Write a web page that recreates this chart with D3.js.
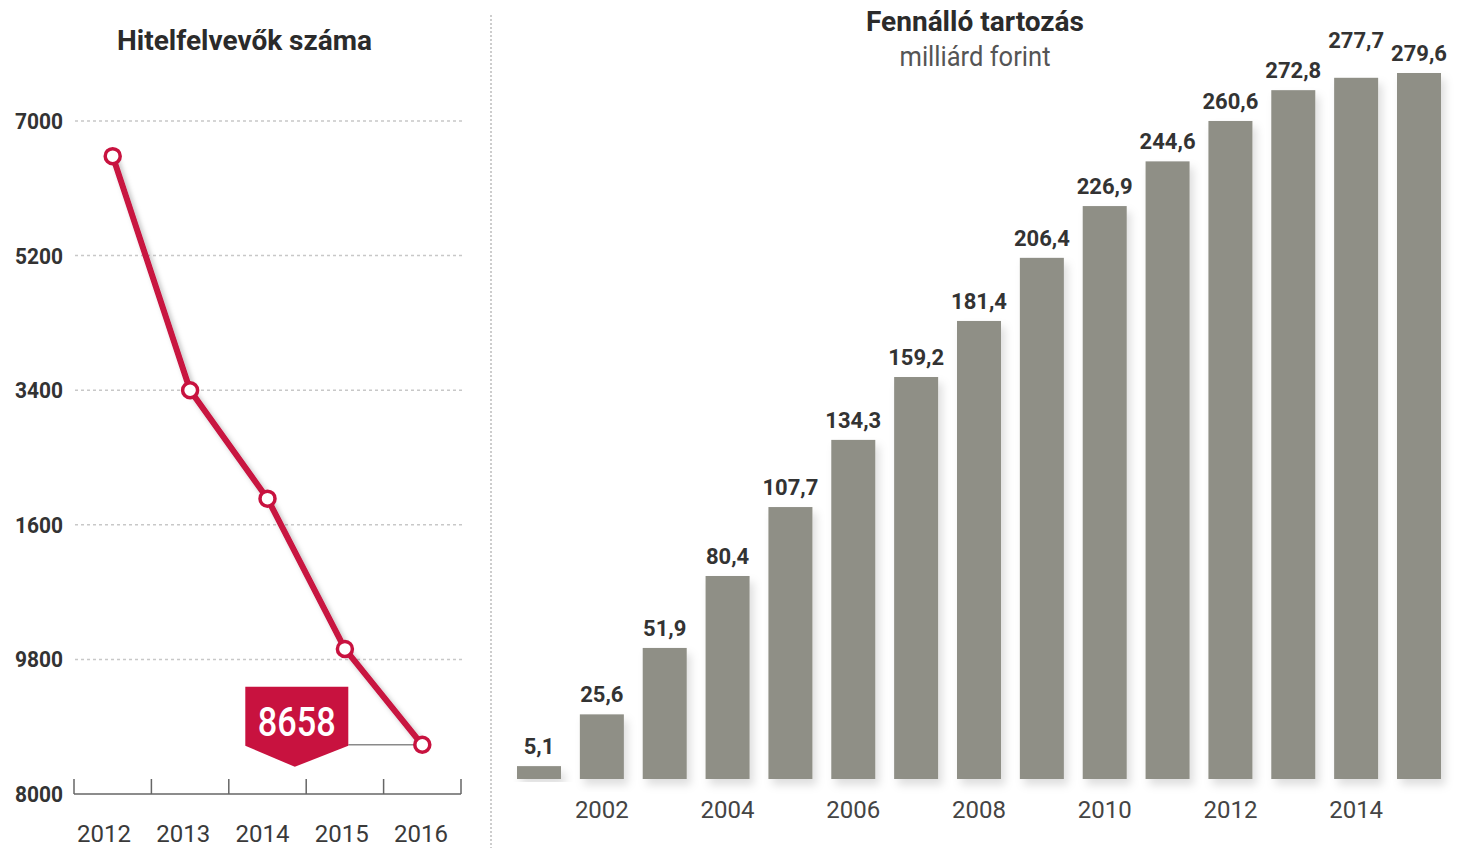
<!DOCTYPE html>
<html><head><meta charset="utf-8">
<script src="https://cdn.jsdelivr.net/npm/d3@7"></script>
<style>
html,body{margin:0;padding:0;background:#fff;}
svg{display:block;}
text{font-family:Roboto, "Noto Sans", sans-serif;}
</style></head>
<body>
<svg id="chart" width="1468" height="848"></svg>
<script>
// ---------- data ----------
const lineTitle = "Hitelfelvevők száma";
const lineYears = ["2012","2013","2014","2015","2016"];
const lineValues = [16530, 13400, 11950, 9940, 8658];
const lineTickValues = [8000, 9800, 11600, 13400, 15200, 17000];
const lineTickLabels = ["8000", "9800", "1600", "3400", "5200", "7000"];
const calloutLabel = "8658";

const barTitle = "Fennálló tartozás";
const barSubtitle = "milliárd forint";
const barYears = ["2001","2002","2003","2004","2005","2006","2007","2008","2009","2010","2011","2012","2013","2014","2015"];
const barValues = [5.1, 25.6, 51.9, 80.4, 107.7, 134.3, 159.2, 181.4, 206.4, 226.9, 244.6, 260.6, 272.8, 277.7, 279.6];
const barValueLabels = ["5,1","25,6","51,9","80,4","107,7","134,3","159,2","181,4","206,4","226,9","244,6","260,6","272,8","277,7","279,6"];
const barAxisLabels = ["2002","2004","2006","2008","2010","2012","2014"];

// ---------- setup ----------
const svg = d3.select("#chart");
const defs = svg.append("defs");
const f1 = defs.append("filter").attr("id","lineShadow").attr("x","-20%").attr("y","-20%").attr("width","140%").attr("height","140%");
f1.append("feDropShadow").attr("dx",3).attr("dy",3).attr("stdDeviation",2.5).attr("flood-color","#000").attr("flood-opacity",0.25);
const f2 = defs.append("filter").attr("id","barShadow").attr("x","-30%").attr("y","-10%").attr("width","160%").attr("height","130%");
f2.append("feDropShadow").attr("dx",4).attr("dy",6).attr("stdDeviation",4).attr("flood-color","#000").attr("flood-opacity",0.13);

const RED = "#c8123f";
const DARK = "#2b2b2b";

// ---------- separator ----------
svg.append("line").attr("x1",491).attr("x2",491).attr("y1",15).attr("y2",848)
  .attr("stroke","#bdbdbd").attr("stroke-width",1.5).attr("stroke-dasharray","2,2");

// ---------- left: line chart ----------
const L = svg.append("g");
const xBand = d3.scaleBand().domain(lineYears).range([74, 461]).paddingInner(0).paddingOuter(0);
const xLab = d3.scalePoint().domain(lineYears).range([104, 421]);
const yL = d3.scaleLinear().domain([8000, 17000]).range([794, 121]);

L.append("text").attr("x",244.5).attr("y",50).attr("text-anchor","middle")
  .attr("font-size",28).attr("font-weight",700).attr("fill",DARK)
  .attr("textLength",255).attr("lengthAdjust","spacingAndGlyphs").text(lineTitle);

// gridlines
L.selectAll("line.grid").data(lineTickValues.slice(1)).enter().append("line")
  .attr("x1",75).attr("x2",462).attr("y1",d=>yL(d)).attr("y2",d=>yL(d))
  .attr("stroke","#c8c8c8").attr("stroke-width",1.5).attr("stroke-dasharray","3,3");

// y labels
L.selectAll("text.ylab").data(lineTickValues).enter().append("text")
  .attr("x",63).attr("y",d=>yL(d)).attr("dy","0.36em").attr("text-anchor","end")
  .attr("font-family","'Liberation Sans', Arial, sans-serif")
  .attr("font-size",22).attr("font-weight",700).attr("fill","#333")
  .attr("textLength",48).attr("lengthAdjust","spacingAndGlyphs")
  .text((d,i)=>lineTickLabels[i]);

// x axis with ticks at band boundaries
const bounds = lineYears.map(d=>xBand(d)).concat([xBand(lineYears[lineYears.length-1])+xBand.bandwidth()]);
L.append("line").attr("x1",bounds[0]).attr("x2",bounds[bounds.length-1]).attr("y1",yL(8000)).attr("y2",yL(8000))
  .attr("stroke","#666").attr("stroke-width",1.5);
L.selectAll("line.tk").data(bounds).enter().append("line")
  .attr("x1",d=>d).attr("x2",d=>d).attr("y1",yL(8000)-15).attr("y2",yL(8000))
  .attr("stroke","#666").attr("stroke-width",1.5);
L.selectAll("text.xlab").data(lineYears).enter().append("text")
  .attr("x",d=>xLab(d)).attr("y",842).attr("text-anchor","middle")
  .attr("font-size",24).attr("fill","#3a3a3a").text(d=>d);

// line
const pts = lineYears.map((d,i)=>[xBand(d)+xBand.bandwidth()/2, yL(lineValues[i])]);
L.append("path").attr("d",d3.line()(pts)).attr("fill","none").attr("stroke",RED)
  .attr("stroke-width",6).attr("stroke-linejoin","round").attr("filter","url(#lineShadow)");

// callout
const last = pts[pts.length-1];
const bx1 = last[0]-177, bx2 = last[0]-74, by1 = last[1]-58, by2 = last[1]+1, tipY = last[1]+22;
const tipX = (bx1+bx2)/2 - 2;
L.append("line").attr("x1",bx2).attr("x2",last[0]).attr("y1",last[1]).attr("y2",last[1])
  .attr("stroke","#8a8a8a").attr("stroke-width",1.5);
L.append("path").attr("d",`M${bx1},${by1}L${bx2},${by1}L${bx2},${by2}L${tipX},${tipY}L${bx1},${by2}Z`).attr("fill",RED);
L.append("text").attr("x",(bx1+bx2)/2).attr("y",by1+49).attr("text-anchor","middle")
  .attr("font-size",40).attr("font-weight",500).attr("fill","#fff")
  .attr("textLength",78).attr("lengthAdjust","spacingAndGlyphs").text(calloutLabel);

// points
L.selectAll("circle").data(pts).enter().append("circle")
  .attr("cx",d=>d[0]).attr("cy",d=>d[1]).attr("r",7.5)
  .attr("fill","#fff").attr("stroke",RED).attr("stroke-width",3.5);

// ---------- right: bar chart ----------
const R = svg.append("g");
const xB = d3.scaleBand().domain(barYears).range([517, 1441]).paddingInner(0.3).paddingOuter(0);
const yB = d3.scaleLinear().domain([0, d3.max(barValues)]).range([779, 73]);

R.append("text").attr("x",975).attr("y",31).attr("text-anchor","middle")
  .attr("font-size",28).attr("font-weight",700).attr("fill",DARK)
  .attr("textLength",218).attr("lengthAdjust","spacingAndGlyphs").text(barTitle);
R.append("text").attr("x",975).attr("y",66).attr("text-anchor","middle")
  .attr("font-size",27).attr("font-weight",400).attr("fill","#555")
  .attr("textLength",151).attr("lengthAdjust","spacingAndGlyphs").text(barSubtitle);

R.selectAll("rect.bar").data(barValues).enter().append("rect")
  .attr("x",(d,i)=>xB(barYears[i])).attr("width",xB.bandwidth())
  .attr("y",d=>yB(d)).attr("height",d=>yB(0)-yB(d))
  .attr("fill","#8f8f86").attr("filter","url(#barShadow)");

R.selectAll("text.val").data(barValues).enter().append("text")
  .attr("x",(d,i)=>xB(barYears[i])+xB.bandwidth()/2)
  .attr("y",(d,i)=>yB(d)-12 - (i===barValues.length-2 ? 18 : 0))
  .attr("text-anchor","middle").attr("font-size",22).attr("font-weight",700).attr("fill","#333")
  .text((d,i)=>barValueLabels[i]);

R.selectAll("text.bx").data(barAxisLabels).enter().append("text")
  .attr("x",d=>xB(d)+xB.bandwidth()/2).attr("y",818).attr("text-anchor","middle")
  .attr("font-size",24).attr("fill","#444").text(d=>d);
</script>
</body></html>
